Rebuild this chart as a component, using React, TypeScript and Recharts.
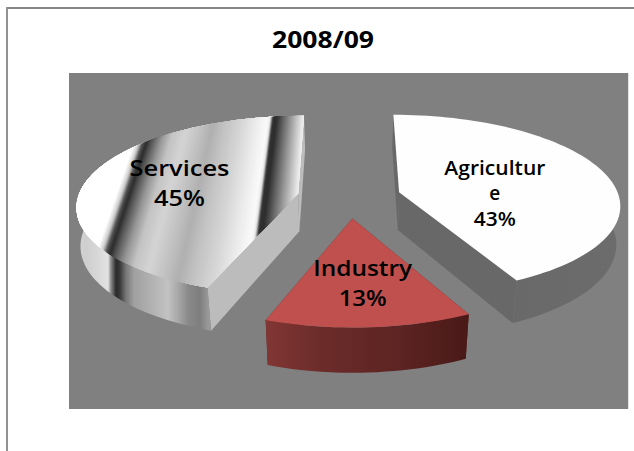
import React from "react";
import { PieChart, Pie } from "recharts";

// Share of each sector in 2008/09, in percent, clockwise from twelve o'clock.
const sectors = ["Agriculture", "Industry", "Services"];
const shares = [43, 13, 45];
const titleText = "2008/09";

// How each label breaks across lines (the first label wraps inside a narrow box).
const labelLines = [["Agricultur", "e"], ["Industry"], ["Services"]];

const tableData = sectors.map((name, i) => ({ name, value: shares[i], index: i }));

const W = 634;
const H = 451;

// Tilted-disc projection shared by the slices and their labels.
const EXPLODE = 0.2357;
const SQUASH = 0.403;
const PERSPECTIVE = 0.13;
const DEPTH = 38;

const rad = (d: number) => (d * Math.PI) / 180;

function project(cx: number, cy: number, R: number, u: number, v: number, z = 0) {
  const w = 1 / (1 - PERSPECTIVE * v);
  const dx = R * u * w;
  // The lower rim of the disc sits slightly closer to the centre line.
  const inset = Math.sign(dx) * Math.min(4, 0.025 * Math.abs(dx)) * z;
  return {
    x: cx + dx - inset,
    y: cy + R * SQUASH * v * w + z * DEPTH * w,
  };
}

// Point of a slice at clockwise angle `theta` and relative radius `r`, for an exploded slice.
function slicePoint(cx: number, cy: number, R: number, mid: number, theta: number, r: number, z = 0) {
  const u = EXPLODE * Math.sin(rad(mid)) + r * Math.sin(rad(theta));
  const v = -EXPLODE * Math.cos(rad(mid)) - r * Math.cos(rad(theta));
  return project(cx, cy, R, u, v, z);
}

const toPath = (pts: { x: number; y: number }[]) =>
  pts.map((p, i) => `${i ? "L" : "M"}${p.x.toFixed(2)} ${p.y.toFixed(2)}`).join(" ") + " Z";

function arcAngles(a: number, b: number) {
  const n = Math.max(2, Math.ceil((b - a) / 2));
  return Array.from({ length: n + 1 }, (_, i) => a + ((b - a) * i) / n);
}

// Grey banding of the Services face: [x along the reference row, grey level].
const faceBands: [number, number][] = [
  [30, 255], [118, 255], [123, 205], [127, 80], [131, 45], [136, 85], [146, 150], [156, 195],
  [170, 212], [188, 190], [198, 176], [212, 195], [230, 215], [245, 235], [258, 250], [261, 232],
  [264, 50], [268, 45], [275, 95], [285, 160], [294, 215], [300, 250], [330, 255],
];

// Bands lean further left on the left side of the face than on the right.
const bandSlope = (x: number) => -0.33 + ((x - 127) / 137) * 0.205;

function greyAt(x: number) {
  for (let i = 1; i < faceBands.length; i++) {
    const [x0, g0] = faceBands[i - 1];
    const [x1, g1] = faceBands[i];
    if (x <= x1) return Math.round(g0 + ((g1 - g0) * (x - x0)) / (x1 - x0));
  }
  return 255;
}

function FaceBands({ clipId }: { clipId: string }) {
  const strips = [];
  const top = 105;
  const bottom = 300;
  const row = 190;
  const overlap = 8; // painted left to right, so each strip hides the seam of the one before
  for (let x = 30; x < 330; x += 1) {
    const g = greyAt(x + 0.5);
    const a = bandSlope(x);
    const b = bandSlope(x + overlap);
    const d =
      `M${x + a * (top - row)} ${top} L${x + overlap + b * (top - row)} ${top} ` +
      `L${x + overlap + b * (bottom - row)} ${bottom} L${x + a * (bottom - row)} ${bottom} Z`;
    strips.push(<path key={x} d={d} fill={`rgb(${g},${g},${g})`} />);
  }
  return <g clipPath={`url(#${clipId})`}>{strips}</g>;
}

const servicesWallStops: [number, string][] = [
  [78, "#d4d4d4"], [85, "#cecece"], [98, "#d8d8d8"], [108, "#e2e2e2"], [111, "#888888"], [116, "#2a2a2a"],
  [120, "#3a3a3a"], [126, "#777777"], [134, "#a0a0a0"], [150, "#b0b0b0"], [168, "#c2c2c2"], [178, "#a8a8a8"],
  [188, "#8a8a8a"], [200, "#7e7e7e"], [208, "#999999"],
];
const industryWallStops: [number, string][] = [
  [267, "#803634"], [320, "#6c2c2a"], [400, "#5c2422"], [465, "#4a1a18"],
];
const agricultureWallStops: [number, string][] = [
  [395, "#666666"], [618, "#6c6c6c"],
];

const sliceLook = [
  { top: "#fefefe", radial: "#686868", wall: agricultureWallStops },
  { top: "#c0504d", radial: "#5c2422", wall: industryWallStops },
  { top: "#ffffff", radial: "#bcbcbc", wall: servicesWallStops },
];

function SliceShape(props: any) {
  const { cx, cy, outerRadius: R, startAngle, endAngle, index } = props;
  const i: number = index ?? props.payload?.index ?? 0;
  const look = sliceLook[i];
  const a = 90 - startAngle;
  const b = 90 - endAngle;
  const mid = (a + b) / 2;
  const pt = (theta: number, r: number, z = 0) => slicePoint(cx, cy, R, mid, theta, r, z);

  const facePts = [pt(a, 0), ...arcAngles(a, b).map((t) => pt(t, 1))];
  const radialWall = (t: number) => [pt(t, 0), pt(t, 1), pt(t, 1, 1), pt(t, 0, 1)];

  // Only the front of the rim is visible.
  const rimA = Math.max(a, 75);
  const rimB = Math.min(b, 285);
  const rim = arcAngles(rimA, rimB);
  const rimPts = [...rim.map((t) => pt(t, 1)), ...rim.slice().reverse().map((t) => pt(t, 1, 1))];

  const gradId = `rim-${i}`;
  const clipId = `face-${i}`;
  const x0 = look.wall[0][0];
  const x1 = look.wall[look.wall.length - 1][0];
  return (
    <g>
      <defs>
        <linearGradient id={gradId} gradientUnits="userSpaceOnUse" x1={x0} x2={x1} y1={0} y2={0}>
          {look.wall.map(([x, c]) => (
            <stop key={x} offset={(x - x0) / (x1 - x0)} stopColor={c} />
          ))}
        </linearGradient>
        <clipPath id={clipId}>
          <path d={toPath(facePts)} />
        </clipPath>
      </defs>
      <path d={toPath(radialWall(a))} fill={look.radial} />
      <path d={toPath(radialWall(b))} fill={look.radial} />
      {rimB > rimA && <path d={toPath(rimPts)} fill={`url(#${gradId})`} />}
      <path d={toPath(facePts)} fill={look.top} />
      {i === 2 && <FaceBands clipId={clipId} />}
    </g>
  );
}

// Label placement per slice: relative radius, vertical nudge, type size, line pitch.
const labelPlace = [
  { r: 0.46, dy: 10.5, size: 19, pitch: 25.5 },
  { r: 0.65, dy: -2.4, size: 22, pitch: 30 },
  { r: 0.56, dy: -1.7, size: 22, pitch: 30 },
];

// Set widths of the label words, which run wide in this chart.
const wordWidths: Record<string, number> = {
  Agricultur: 101, e: 11, "43%": 42, Industry: 99, "13%": 48, Services: 100, "45%": 51,
};

function SliceLabel(props: any) {
  const { cx, cy, outerRadius: R, midAngle, index, value } = props;
  const place = labelPlace[index];
  const mid = 90 - midAngle;
  const p = slicePoint(cx, cy, R, mid, mid, place.r);
  const lines = [...labelLines[index], `${value}%`];
  const first = p.y + place.dy + place.size * 0.35 - ((lines.length - 1) / 2) * place.pitch;
  return (
    <g>
      {lines.map((line, k) => (
        <text
          key={k}
          x={p.x}
          y={first + k * place.pitch}
          textAnchor="middle"
          fontFamily="'Open Sans', sans-serif"
          fontWeight={600}
          fontSize={place.size}
          fill="#000000"
          textLength={wordWidths[line]}
          lengthAdjust="spacingAndGlyphs"
        >
          {line}
        </text>
      ))}
    </g>
  );
}

export default function App() {
  return (
    <div style={{ position: "absolute", left: 0, top: 0, width: W, height: H, background: "#ffffff", overflow: "hidden" }}>
      {/* Outer frame and plot backdrop sit behind the chart surface. */}
      <div style={{ position: "absolute", left: 6, top: 7, width: W - 6, height: 2, background: "#868686" }} />
      <div style={{ position: "absolute", left: 6, top: 7, width: 2, height: H - 7, background: "#929292" }} />
      <div style={{ position: "absolute", left: 69, top: 73, width: 559, height: 336, background: "#808080" }} />
      <div style={{ position: "absolute", left: 628, top: 73, width: 1, height: 336, background: "#e4e4e4" }} />
      <div style={{ position: "absolute", left: 0, top: 0 }}>
        <PieChart width={W} height={H} margin={{ top: 0, right: 0, bottom: 0, left: 0 }}>
          <text
            x={323}
            y={48}
            textAnchor="middle"
            fontFamily="'Open Sans', sans-serif"
            fontWeight={700}
            fontSize={23}
            fill="#000000"
            textLength={102}
            lengthAdjust="spacingAndGlyphs"
          >
            {titleText}
          </text>
          <Pie
            data={tableData}
            dataKey="value"
            nameKey="name"
            cx={349}
            cy={197}
            innerRadius={0}
            outerRadius={220}
            startAngle={90}
            endAngle={-270}
            paddingAngle={0}
            stroke="none"
            isAnimationActive={false}
            shape={SliceShape}
            label={SliceLabel}
            labelLine={false}
          />
        </PieChart>
      </div>
    </div>
  );
}
